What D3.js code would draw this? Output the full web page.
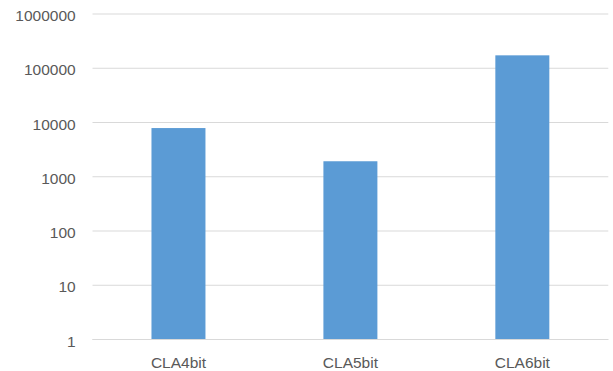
<!DOCTYPE html>
<html><head><meta charset="utf-8">
<script src="https://cdn.jsdelivr.net/npm/d3@7"></script>
<style>html,body{margin:0;padding:0;background:#fff;}svg{display:block;}</style>
</head><body>
<svg id="c" width="613" height="371"></svg>
<script>
const categories = ["CLA4bit", "CLA5bit", "CLA6bit"];
const values = [7900, 1930, 173000];
const yTicks = [1, 10, 100, 1000, 10000, 100000, 1000000];

const svg = d3.select("#c");
const m = {left: 92.5, right: 5, top: 14, bottom: 31.5};
const W = 613, H = 371;
const x = d3.scaleBand().domain(categories).range([m.left, 608.3]).paddingInner(0.686).paddingOuter(0.343);
const y = d3.scaleLog().domain([1, 1000000]).range([339.5, 14]);
const font = "'Liberation Sans', Arial, sans-serif";

// gridlines
svg.append("g").selectAll("line").data(yTicks).join("line")
  .attr("x1", m.left).attr("x2", 608.3)
  .attr("y1", d => y(d)).attr("y2", d => y(d))
  .attr("stroke", "#d9d9d9").attr("stroke-width", 1);

// y labels
const yAxis = d3.axisLeft(y).tickValues(yTicks).tickFormat(d3.format("d")).tickSize(0).tickPadding(16.8);
const ga = svg.append("g").attr("transform", `translate(${m.left},0)`).call(yAxis);
ga.select(".domain").remove();
ga.selectAll("text").attr("font-family", font).attr("font-size", "15.5px").attr("fill", "#595959").attr("dy", "0.43em");

// bars
svg.append("g").selectAll("rect").data(categories).join("rect")
  .attr("x", d => x(d)).attr("width", x.bandwidth())
  .attr("y", (d, i) => y(values[i])).attr("height", (d, i) => y(1) - y(values[i]))
  .attr("fill", "#5b9bd5");

// x axis
const xAxis = d3.axisBottom(x).tickSize(0).tickPadding(0);
const gx = svg.append("g").attr("transform", `translate(0,${y(1)})`).call(xAxis);
gx.select(".domain").attr("stroke", "#d9d9d9").attr("d", `M${m.left},0H608.3`);
gx.selectAll("text").attr("font-family", font).attr("font-size", "15.5px").attr("fill", "#595959").attr("dy", null).attr("y", 28);
</script>
</body></html>
